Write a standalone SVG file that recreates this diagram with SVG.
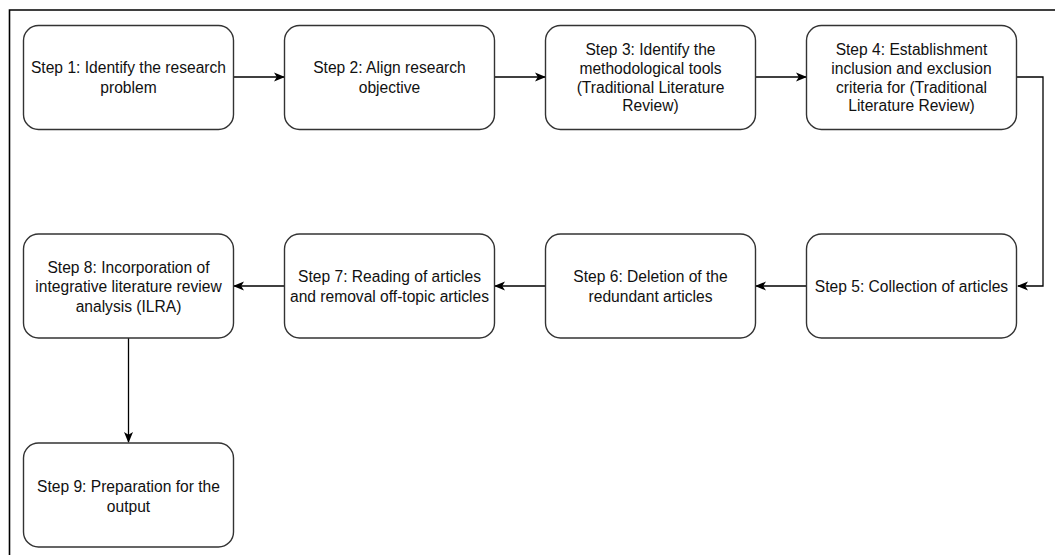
<svg xmlns="http://www.w3.org/2000/svg" width="1055" height="555" viewBox="0 0 1055 555">
<style>
.box{fill:#fff;stroke:#333;stroke-width:1.4}
.t{font-family:"Liberation Sans",Arial,sans-serif;font-size:15.6px;fill:#111;text-anchor:middle}
.c{fill:none;stroke:#000;stroke-width:1.3}
</style>
<defs>
<marker id="arr" viewBox="0 0 11 10" refX="10" refY="5" markerWidth="11" markerHeight="10" markerUnits="userSpaceOnUse" orient="auto">
<path d="M0,0.5 L11,5 L0,9.5 L2.8,5 Z" fill="#000"/>
</marker>
</defs>
<rect x="0" y="0" width="1055" height="555" fill="#fff"/>
<path d="M9.5,560 V10 H1060" fill="none" stroke="#000" stroke-width="1.6"/>
<g id="connectors">
<path class="c" d="M233,77 H284" marker-end="url(#arr)"/>
<path class="c" d="M494,77 H545" marker-end="url(#arr)"/>
<path class="c" d="M755,77 H806" marker-end="url(#arr)"/>
<path class="c" d="M1016,77 H1043 V286 H1018" marker-end="url(#arr)"/>
<path class="c" d="M807,286 H756" marker-end="url(#arr)"/>
<path class="c" d="M546,286 H495" marker-end="url(#arr)"/>
<path class="c" d="M285,286 H234" marker-end="url(#arr)"/>
<path class="c" d="M128.5,338 V442" marker-end="url(#arr)"/>
</g>
<g id="step1">
<rect class="box" x="23.5" y="25.5" width="210" height="104" rx="15"/>
<text class="t" x="128.5" y="73">Step 1: Identify the research</text>
<text class="t" x="128.5" y="92.5">problem</text>
</g>
<g id="step2">
<rect class="box" x="284.5" y="25.5" width="210" height="104" rx="15"/>
<text class="t" x="389.5" y="73">Step 2: Align research</text>
<text class="t" x="389.5" y="92.5">objective</text>
</g>
<g id="step3">
<rect class="box" x="545.5" y="25.5" width="210" height="104" rx="15"/>
<text class="t" x="650.5" y="54.5">Step 3: Identify the</text>
<text class="t" x="650.5" y="73.5">methodological tools</text>
<text class="t" x="650.5" y="92.5">(Traditional Literature</text>
<text class="t" x="650.5" y="111">Review)</text>
</g>
<g id="step4">
<rect class="box" x="806.5" y="25.5" width="210" height="104" rx="15"/>
<text class="t" x="911.5" y="54.5">Step 4: Establishment</text>
<text class="t" x="911.5" y="73.5">inclusion and exclusion</text>
<text class="t" x="911.5" y="92.5">criteria for (Traditional</text>
<text class="t" x="911.5" y="111">Literature Review)</text>
</g>
<g id="step5">
<rect class="box" x="806.5" y="234" width="210" height="104" rx="15"/>
<text class="t" x="911.5" y="291.5">Step 5: Collection of articles</text>
</g>
<g id="step6">
<rect class="box" x="545.5" y="234" width="210" height="104" rx="15"/>
<text class="t" x="650.5" y="282">Step 6: Deletion of the</text>
<text class="t" x="650.5" y="301.5">redundant articles</text>
</g>
<g id="step7">
<rect class="box" x="284.5" y="234" width="210" height="104" rx="15"/>
<text class="t" x="389.5" y="282">Step 7: Reading of articles</text>
<text class="t" x="389.5" y="301.5">and removal off-topic articles</text>
</g>
<g id="step8">
<rect class="box" x="23.5" y="234" width="210" height="104" rx="15"/>
<text class="t" x="128.5" y="272.5">Step 8: Incorporation of</text>
<text class="t" x="128.5" y="292">integrative literature review</text>
<text class="t" x="128.5" y="311.5">analysis (ILRA)</text>
</g>
<g id="step9">
<rect class="box" x="23.5" y="443" width="210" height="104" rx="15"/>
<text class="t" x="128.5" y="492">Step 9: Preparation for the</text>
<text class="t" x="128.5" y="511.5">output</text>
</g>
</svg>
